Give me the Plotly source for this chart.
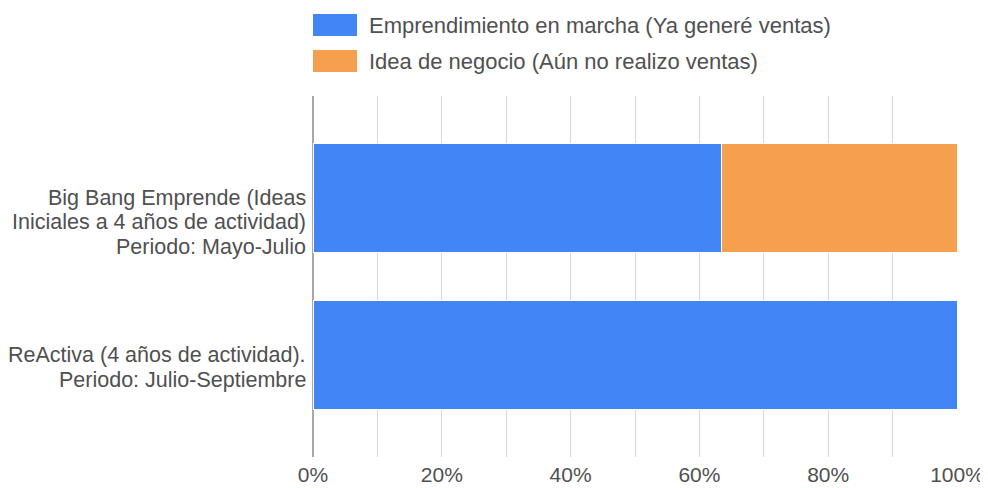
import plotly.graph_objects as go

categories = ["ReActiva", "Big Bang Emprende"]
category_labels = [
    ["ReActiva (4 años de actividad).", "Periodo: Julio-Septiembre"],
    ["Big Bang Emprende (Ideas", "Iniciales a 4 años de actividad)", "Periodo: Mayo-Julio"],
]
series_names = [
    "Emprendimiento en marcha (Ya generé ventas)",
    "Idea de negocio (Aún no realizo ventas)",
]
marcha = [100.0, 63.5]
idea = [0.0, 36.5]
colors = ["#4285F4", "#F5A04F"]
tick_values = [0, 20, 40, 60, 80, 100]
tick_text = ["0%", "20%", "40%", "60%", "80%", "100%"]

FONT = "Liberation Sans, Arial, sans-serif"
TXT = "#505050"
FS = 22

fig = go.Figure()
for name, vals, col in zip(series_names, [marcha, idea], colors):
    fig.add_trace(go.Bar(
        y=categories, x=vals, name=name, orientation="h",
        marker=dict(color=col, line=dict(color="white", width=1)),
        width=0.695, showlegend=False,
    ))

# page has an 8px body margin, so the figure is 980x480 placed at (8, 8)
fig.update_layout(
    width=980, height=480,
    margin=dict(l=305, r=31, t=88, b=31, autoexpand=False),
    barmode="stack",
    plot_bgcolor="white", paper_bgcolor="white",
    font=dict(family=FONT, size=FS, color=TXT),
    xaxis=dict(
        range=[0, 100], tickvals=tick_values, ticktext=tick_text,
        showgrid=True, gridcolor="#d9d9d9", gridwidth=1,
        minor=dict(dtick=10, showgrid=True, gridcolor="#d9d9d9", gridwidth=1),
        zeroline=True, zerolinecolor="#a8a8a8", zerolinewidth=2,
        showline=False, ticks="", automargin=False, ticklabelstandoff=3,
        tickfont=dict(family=FONT, size=21, color=TXT),
    ),
    yaxis=dict(
        range=[-0.646, 1.646], showgrid=False, zeroline=False, showline=False,
        ticks="", showticklabels=False, automargin=False,
    ),
)

# category labels: first line centred on the bar, following lines below it
for cat, lines in zip(categories, category_labels):
    for k, line in enumerate(lines):
        fig.add_annotation(xref="paper", yref="y", x=-5 / 644, y=cat,
                           yshift=-k * 24.5, text=line, showarrow=False,
                           xanchor="right", yanchor="middle",
                           font=dict(family=FONT, size=21.5, color=TXT))

# legend drawn at top, above the plot area (page pixel coords -> paper coords)
px0, pw, pbot, ph = 313, 644, 457, 361
def xp(px):
    return (px - px0) / pw
def yp(py):
    return (pbot - py) / ph

rows = [(14, 36, 25), (50, 72, 61)]
for (top, bot, mid), name, col in zip(rows, series_names, colors):
    fig.add_shape(type="rect", xref="paper", yref="paper",
                  x0=xp(313), x1=xp(357), y0=yp(bot), y1=yp(top),
                  fillcolor=col, line=dict(width=0), layer="above")
    fig.add_annotation(xref="paper", yref="paper", x=xp(367), y=yp(mid),
                       text=name, showarrow=False, xanchor="left", yanchor="middle",
                       font=dict(family=FONT, size=FS, color=TXT))

fig.write_html("out.html")
